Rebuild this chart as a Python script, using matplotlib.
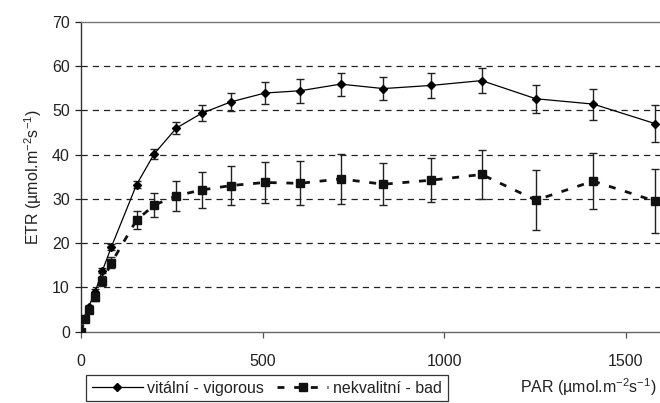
import matplotlib
matplotlib.use("Agg")
import matplotlib.pyplot as plt
from matplotlib.lines import Line2D

plt.rcParams['font.family'] = ['Liberation Sans', 'DejaVu Sans']
plt.rcParams['mathtext.fontset'] = 'custom'
plt.rcParams['mathtext.rm'] = 'Liberation Sans'
plt.rcParams['mathtext.it'] = 'Liberation Sans'
plt.rcParams['mathtext.default'] = 'regular'

# PAR values
par = [0, 11, 21, 39, 59, 84, 153, 202, 263, 332, 413, 507, 603, 715, 833, 963, 1104, 1253, 1411, 1581]
# vitalni - vigorous
vig = [0, 3.2, 5.6, 9.0, 13.8, 19.2, 33.2, 40.2, 46.0, 49.3, 51.9, 53.9, 54.4, 55.9, 54.9, 55.6, 56.7, 52.6, 51.4, 47.0]
vig_err = [0, 0.4, 0.5, 0.6, 0.6, 0.7, 0.8, 1.1, 1.3, 1.8, 2.1, 2.4, 2.7, 2.6, 2.6, 2.8, 2.8, 3.2, 3.5, 4.2]
# nekvalitni - bad
bad = [0, 2.8, 4.9, 7.8, 11.4, 15.6, 25.2, 28.6, 30.7, 32.0, 33.0, 33.7, 33.5, 34.5, 33.3, 34.2, 35.5, 29.7, 34.0, 29.5]
bad_err = [0, 0.5, 0.7, 0.9, 1.1, 1.3, 2.0, 2.8, 3.4, 4.0, 4.4, 4.7, 5.0, 5.7, 4.8, 5.0, 5.6, 6.8, 6.3, 7.2]

xticks = [0, 500, 1000, 1500]
yticks = [0, 10, 20, 30, 40, 50, 60, 70]

fig = plt.figure(figsize=(6.6, 4.03), dpi=100)
ax = fig.add_axes([81/660, 1-331.7/403, 1-81/660, (331.7-21.7)/403])

for y in yticks[1:-1]:
    ax.axhline(y, color='#222222', lw=0.9, ls=(0, (5, 4)), zorder=0)

ax.errorbar(par, vig, yerr=vig_err, color='black', lw=0.9, marker='D', ms=4.5,
            ecolor='#222222', elinewidth=1.0, capsize=3, capthick=1.0, zorder=3)
ax.errorbar(par, bad, yerr=bad_err, color='#111111', lw=2.0, ls=(0, (2.5, 3.5)), marker='s', ms=5.5,
            ecolor='#222222', elinewidth=1.0, capsize=3, capthick=1.0, zorder=3)

ax.set_xlim(0, 1595)
ax.set_ylim(0, 70)
ax.set_xticks(xticks)
ax.set_yticks(yticks)
ax.tick_params(axis='both', labelsize=11.5, colors='#222222', length=4, width=0.9, direction='out')
ax.tick_params(axis='x', pad=12, colors='#555555', labelcolor='#222222')
ax.tick_params(axis='y', pad=4)
ax.spines['right'].set_visible(False)
ax.spines['top'].set_color('#777777')
ax.spines['bottom'].set_color('#666666')
ax.spines['left'].set_color('#333333')
for s in ax.spines.values():
    s.set_linewidth(1.0)

ax.set_ylabel('ETR (µmol.m$^{-2}$s$^{-1}$)', fontsize=11.5, color='#222222', labelpad=6)

handles = [
    Line2D([], [], color='black', lw=0.9, marker='D', ms=4.5),
    Line2D([], [], color='#111111', lw=2.0, ls=(0, (2.5, 3.5)), marker='s', ms=5.5),
]
leg = fig.legend(handles, ['vitální - vigorous', 'nekvalitní - bad'], ncol=2,
                 loc='upper left', bbox_to_anchor=(86/660, 1-375/403), fontsize=11.5,
                 frameon=True, fancybox=False, edgecolor='black', handlelength=3.2,
                 handletextpad=0.3, columnspacing=0.8, borderpad=0.35, borderaxespad=0)
leg.get_frame().set_linewidth(0.9)
for t in leg.get_texts():
    t.set_color('#222222')

fig.text(520/660, 1-393/403, 'PAR (µmol.m$^{-2}$s$^{-1}$)', fontsize=11.5, color='#222222',
         ha='left', va='baseline')

fig.savefig('out.png', dpi=100)
